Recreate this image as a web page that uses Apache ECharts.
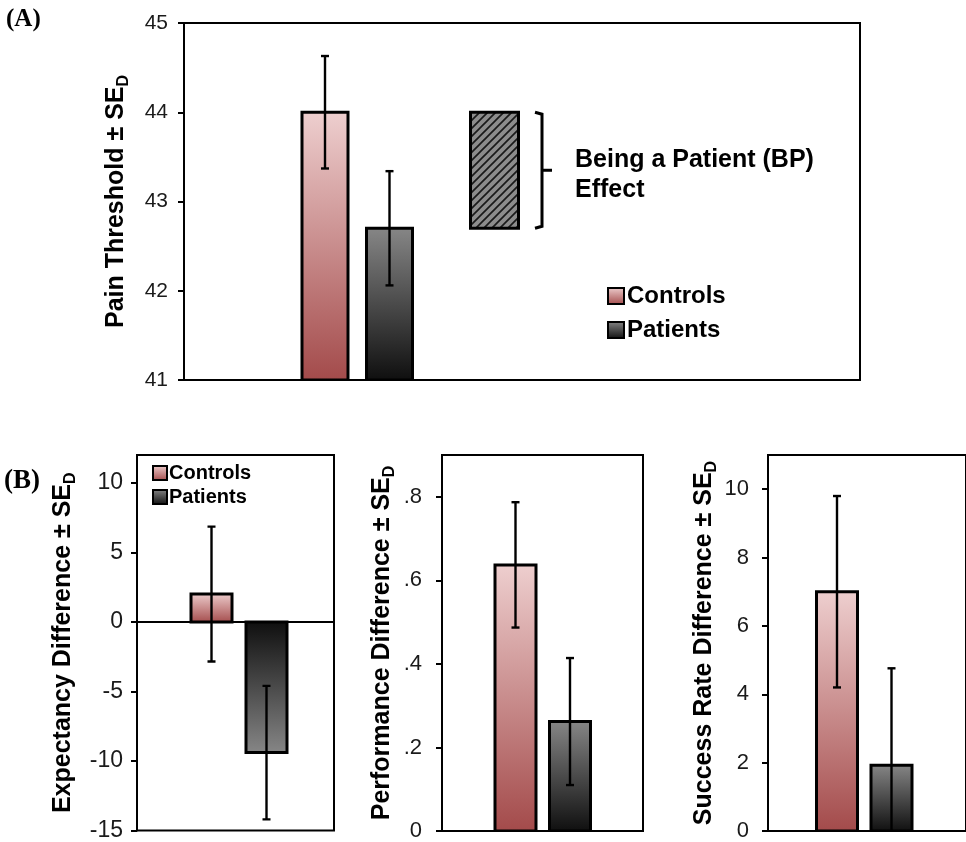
<!DOCTYPE html>
<html>
<head>
<meta charset="utf-8">
<title>Pain threshold and differences</title>
<script src="https://cdn.jsdelivr.net/npm/echarts/dist/echarts.min.js"></script>
<style>
  html, body { margin: 0; padding: 0; background: #fff; }
  #chart { width: 966px; height: 842px; }
</style>
</head>
<body>
<div id="chart"></div>
<script>
// groups and read-off values
const groups = ['Controls', 'Patients']
const painMean = [44.0, 42.7]
const painSE = [0.63, 0.64]
const expectMean = [2.0, -9.4]
const expectSE = [4.85, 4.8]
const perfMean = [0.637, 0.262]
const perfSE = [0.15, 0.152]
const successMean = [7.0, 1.92]
const successSE = [2.8, 2.84]

// gradient colours per group: [tip, base]
const fills = [['#eecfcf', '#a34a4a'], ['#878787', '#0e0e0e']]
const font = 'Liberation Sans'

// layout of the four plot areas
const panels = [
  { grid: { left: 184, top: 23, width: 676, height: 357 }, min: 41, max: 45, interval: 1,
    mean: painMean, se: painSE, offsets: [-197, -132.5], barW: 46, nameGap: 52, labelSize: 21, margin: 16,
    fmt: v => String(v), title: 'Pain Threshold ± SE', titleSize: 25 },
  { grid: { left: 137, top: 455, width: 197, height: 380 }, min: -15, max: 12, interval: 5,
    mean: expectMean, se: expectSE, offsets: [-24, 31], barW: 41, nameGap: 58, labelSize: 23, margin: 14,
    fmt: v => String(v), title: 'Expectancy Difference ± SE', titleSize: 25 },
  { grid: { left: 442, top: 455, width: 201, height: 378 }, min: 0, max: 0.9, interval: 0.2,
    mean: perfMean, se: perfSE, offsets: [-27, 27.5], barW: 41, nameGap: 44, labelSize: 22, margin: 20,
    fmt: v => v === 0 ? '0' : v.toFixed(1).replace(/^0/, ''),
    title: 'Performance Difference ± SE', titleSize: 25 },
  { grid: { left: 768, top: 455, width: 210, height: 379 }, min: 0, max: 11, interval: 2,
    mean: successMean, se: successSE, offsets: [-30, 24.5], barW: 41, nameGap: 48, labelSize: 22, margin: 19,
    fmt: v => String(v), title: 'Success Rate Difference ± SE', titleSize: 25 }
]

function grad (g, negative) {
  const stops = negative
    ? [{ offset: 0, color: fills[g][1] }, { offset: 1, color: fills[g][0] }]
    : [{ offset: 0, color: fills[g][0] }, { offset: 1, color: fills[g][1] }]
  return new echarts.graphic.LinearGradient(0, 0, 0, 1, stops)
}

// hatch pattern for the BP effect box
const hatch = document.createElement('canvas')
hatch.width = 8
hatch.height = 8
const hc = hatch.getContext('2d')
hc.fillStyle = '#8c8c8c'
hc.fillRect(0, 0, 8, 8)
hc.strokeStyle = '#1a1a1a'
hc.lineWidth = 1.7
hc.beginPath()
hc.moveTo(0, 8); hc.lineTo(8, 0)
hc.moveTo(-2, 2); hc.lineTo(2, -2)
hc.moveTo(6, 10); hc.lineTo(10, 6)
hc.stroke()

const grids = []
const xAxes = []
const yAxes = []
const series = []

panels.forEach((p, i) => {
  grids.push(Object.assign({ show: true, borderColor: '#000', borderWidth: 2, backgroundColor: 'transparent' }, p.grid))
  xAxes.push({
    type: 'category', gridIndex: i, data: [''],
    axisLine: { show: true, onZero: true, lineStyle: { color: '#000', width: 2 } },
    axisTick: { show: false }, axisLabel: { show: false }, splitLine: { show: false }
  })
  yAxes.push({
    type: 'value', gridIndex: i, min: p.min, max: p.max, interval: p.interval,
    name: '{m|' + p.title + '}{s|D}', nameLocation: 'middle', nameGap: p.nameGap,
    nameTextStyle: {
      rich: {
        m: { fontSize: p.titleSize, fontWeight: 'bold', fontFamily: font, color: '#000' },
        s: { fontSize: Math.round(p.titleSize * 0.62), fontWeight: 'bold', fontFamily: font, color: '#000', verticalAlign: 'bottom', lineHeight: 32 }
      }
    },
    axisLine: { show: true, onZero: false, lineStyle: { color: '#000', width: 2 } },
    axisTick: { show: true, length: 6, lineStyle: { color: '#000', width: 2 } },
    splitLine: { show: false },
    axisLabel: { fontSize: p.labelSize, fontFamily: font, color: '#1a1a1a', margin: p.margin, showMaxLabel: p.max % p.interval === 0 ? null : false, formatter: p.fmt }
  })
  const base = p.min > 0 ? p.min : 0
  groups.forEach((g, k) => {
    // bar
    series.push({
      type: 'custom', name: g, xAxisIndex: i, yAxisIndex: i, clip: true,
      itemStyle: { color: grad(k, false), borderColor: '#000', borderWidth: 2 },
      data: [[0, p.mean[k]]],
      renderItem (params, api) {
        const v = api.value(1)
        const tip = api.coord([0, v])
        const b = api.coord([0, base])
        const x = tip[0] + p.offsets[k] - p.barW / 2
        return {
          type: 'rect',
          shape: { x: x, y: Math.min(tip[1], b[1]), width: p.barW, height: Math.abs(b[1] - tip[1]) },
          style: { fill: grad(k, v < base), stroke: '#000', lineWidth: 3 }
        }
      }
    })
    // error bar
    series.push({
      type: 'custom', name: g + ' SE', xAxisIndex: i, yAxisIndex: i, clip: true, z: 5,
      data: [[0, p.mean[k], p.se[k]]],
      renderItem (params, api) {
        const m = api.value(1)
        const s = api.value(2)
        const hi = api.coord([0, m + s])
        const lo = api.coord([0, m - s])
        const x = hi[0] + p.offsets[k]
        const st = { stroke: '#000', lineWidth: 2.4 }
        return {
          type: 'group',
          children: [
            { type: 'line', shape: { x1: x, y1: hi[1], x2: x, y2: lo[1] }, style: st },
            { type: 'line', shape: { x1: x - 4, y1: hi[1], x2: x + 4, y2: hi[1] }, style: st },
            { type: 'line', shape: { x1: x - 4, y1: lo[1], x2: x + 4, y2: lo[1] }, style: st }
          ]
        }
      }
    })
  })
})

// being-a-patient effect: difference between the two group means in panel A
series.push({
  type: 'custom', name: 'BP Effect', xAxisIndex: 0, yAxisIndex: 0,
  data: [[0, painMean[1], painMean[0]]],
  renderItem (params, api) {
    const lo = api.coord([0, api.value(1)])
    const hi = api.coord([0, api.value(2)])
    const cx = hi[0]
    const bx = cx + 13
    const vx = cx + 20
    const mid = (hi[1] + lo[1]) / 2
    return {
      type: 'group',
      children: [
        { type: 'rect', shape: { x: cx - 27.5 - 24, y: hi[1], width: 48, height: lo[1] - hi[1] },
          style: { fill: { image: hatch, repeat: 'repeat' }, stroke: '#000', lineWidth: 3 } },
        { type: 'polyline', shape: { points: [[bx, hi[1]], [vx, hi[1] + 2], [vx, lo[1] - 2], [bx, lo[1]]] },
          style: { stroke: '#000', lineWidth: 3, fill: null } },
        { type: 'line', shape: { x1: vx, y1: mid, x2: vx + 10, y2: mid }, style: { stroke: '#000', lineWidth: 3 } },
        { type: 'text', x: vx + 33, y: mid + 5,
          style: { text: 'Being a Patient (BP)\nEffect', font: 'bold 25px "Liberation Sans"', fill: '#000',
            verticalAlign: 'middle', align: 'left', lineHeight: 30 } }
      ]
    }
  }
})

const legendItem = (k) => ({
  name: groups[k],
  itemStyle: { color: grad(k, false), borderColor: '#000', borderWidth: 2 }
})

const option = {
  animation: false,
  grid: grids,
  xAxis: xAxes,
  yAxis: yAxes,
  legend: [
    { left: 602, top: 279, orient: 'vertical', icon: 'rect', itemWidth: 16, itemHeight: 16, itemGap: 10,
      selectedMode: false, data: [legendItem(0), legendItem(1)],
      textStyle: { fontSize: 24, fontWeight: 'bold', fontFamily: font, color: '#000', padding: [0, 0, 0, -2] } },
    { left: 147, top: 458, orient: 'vertical', icon: 'rect', itemWidth: 14, itemHeight: 14, itemGap: 4,
      selectedMode: false, data: [legendItem(0), legendItem(1)],
      textStyle: { fontSize: 20, fontWeight: 'bold', fontFamily: font, color: '#000', padding: [0, 0, 0, -3] } }
  ],
  graphic: [
    { type: 'text', left: 6, top: 7, style: { text: '(A)', font: 'bold 25px "Liberation Serif"', fill: '#000' } },
    { type: 'text', left: 4, top: 468, style: { text: '(B)', font: 'bold 27px "Liberation Serif"', fill: '#000' } }
  ],
  series: series
}

const myChart = echarts.init(document.getElementById('chart'))
myChart.setOption(option, true)
</script>
</body>
</html>
